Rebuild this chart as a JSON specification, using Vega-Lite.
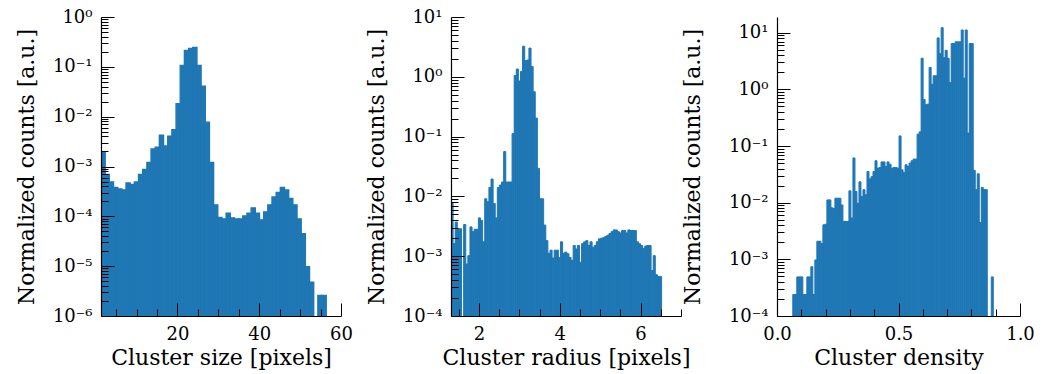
{
  "$schema": "https://vega.github.io/schema/vega-lite/v6.json",
  "background": "white",
  "padding": {"left": 15, "top": 8, "right": 5, "bottom": 2},
  "spacing": 96,
  "bounds": "flush",
  "config": {
    "view": {"stroke": null},
    "font": "DejaVu Serif",
    "axis": {
      "labelFont": "DejaVu Serif", "titleFont": "DejaVu Serif",
      "labelFontSize": 18, "titleFontSize": 22, "titleFontWeight": "normal",
      "labelColor": "black", "titleColor": "black", "domainColor": "black", "tickColor": "black",
      "domain": true, "ticks": true,
      "tickWidth": 1, "domainWidth": 1.2, "grid": false,
      "labelFlush": false, "labelOverlap": false
    }
  },
  "datasets": {
    "size": [
      {"x0":1.30,"x1":2.32,"y":0.00195},{"x0":2.32,"x1":3.34,"y":0.000692},{"x0":3.34,"x1":4.36,"y":0.000490},
      {"x0":4.36,"x1":5.38,"y":0.000380},{"x0":5.38,"x1":6.40,"y":0.000355},{"x0":6.40,"x1":7.42,"y":0.000339},
      {"x0":7.42,"x1":8.44,"y":0.000468},{"x0":8.44,"x1":9.46,"y":0.000437},{"x0":9.46,"x1":10.48,"y":0.000490},
      {"x0":10.48,"x1":11.50,"y":0.000692},{"x0":11.50,"x1":12.52,"y":0.000871},{"x0":12.52,"x1":13.54,"y":0.00120},
      {"x0":13.54,"x1":14.56,"y":0.00224},{"x0":14.56,"x1":15.58,"y":0.00245},{"x0":15.58,"x1":16.60,"y":0.00427},
      {"x0":16.60,"x1":17.62,"y":0.00257},{"x0":17.62,"x1":18.64,"y":0.00407},{"x0":18.64,"x1":19.66,"y":0.00550},
      {"x0":19.66,"x1":20.68,"y":0.0182},{"x0":20.68,"x1":21.70,"y":0.107},{"x0":21.70,"x1":22.72,"y":0.214},
      {"x0":22.72,"x1":23.74,"y":0.234},{"x0":23.74,"x1":24.76,"y":0.245},{"x0":24.76,"x1":25.78,"y":0.107},
      {"x0":25.78,"x1":26.80,"y":0.0407},{"x0":26.80,"x1":27.82,"y":0.00776},{"x0":27.82,"x1":28.84,"y":0.00120},
      {"x0":28.84,"x1":29.86,"y":0.000170},{"x0":29.86,"x1":30.88,"y":0.0000955},{"x0":30.88,"x1":31.90,"y":0.0000891},
      {"x0":31.90,"x1":32.92,"y":0.000115},{"x0":32.92,"x1":33.94,"y":0.0000933},{"x0":33.94,"x1":34.96,"y":0.0000891},
      {"x0":34.96,"x1":35.98,"y":0.0000891},{"x0":35.98,"x1":37.00,"y":0.000102},{"x0":37.00,"x1":38.02,"y":0.000115},
      {"x0":38.02,"x1":39.04,"y":0.000148},{"x0":39.04,"x1":40.06,"y":0.000115},{"x0":40.06,"x1":41.08,"y":0.0000851},
      {"x0":41.08,"x1":42.10,"y":0.000123},{"x0":42.10,"x1":43.12,"y":0.000170},{"x0":43.12,"x1":44.14,"y":0.000245},
      {"x0":44.14,"x1":45.16,"y":0.000302},{"x0":45.16,"x1":46.18,"y":0.000380},{"x0":46.18,"x1":47.20,"y":0.000339},
      {"x0":47.20,"x1":48.22,"y":0.000229},{"x0":48.22,"x1":49.24,"y":0.000170},{"x0":49.24,"x1":50.26,"y":0.0000891},
      {"x0":50.26,"x1":51.28,"y":0.0000447},{"x0":51.28,"x1":52.30,"y":0.00000977},{"x0":52.30,"x1":53.32,"y":0.00000479},
      {"x0":54.34,"x1":55.36,"y":0.00000257},{"x0":55.36,"x1":56.38,"y":0.00000257}
    ],
    "radius": [
      {"x0":1.310,"x1":1.362,"y":0.00794},{"x0":1.362,"x1":1.414,"y":0.00162},{"x0":1.414,"x1":1.466,"y":0.00372},
      {"x0":1.466,"x1":1.518,"y":0.00288},{"x0":1.518,"x1":1.571,"y":0.00288},
      {"x0":1.623,"x1":1.675,"y":0.00339},{"x0":1.675,"x1":1.727,"y":0.000741},{"x0":1.727,"x1":1.779,"y":0.00102},
      {"x0":1.779,"x1":1.831,"y":0.00309},{"x0":1.831,"x1":1.883,"y":0.00257},{"x0":1.883,"x1":1.935,"y":0.00282},
      {"x0":1.935,"x1":1.987,"y":0.00282},{"x0":1.987,"x1":2.039,"y":0.00437},{"x0":2.039,"x1":2.092,"y":0.00398},
      {"x0":2.092,"x1":2.144,"y":0.00174},{"x0":2.144,"x1":2.196,"y":0.00912},{"x0":2.196,"x1":2.248,"y":0.00813},
      {"x0":2.248,"x1":2.300,"y":0.0141},{"x0":2.300,"x1":2.352,"y":0.0195},{"x0":2.352,"x1":2.404,"y":0.00759},
      {"x0":2.404,"x1":2.456,"y":0.00437},{"x0":2.456,"x1":2.508,"y":0.0141},{"x0":2.508,"x1":2.560,"y":0.0155},
      {"x0":2.560,"x1":2.613,"y":0.0174},{"x0":2.613,"x1":2.665,"y":0.0562},{"x0":2.665,"x1":2.717,"y":0.0174},
      {"x0":2.717,"x1":2.769,"y":0.0174},{"x0":2.769,"x1":2.821,"y":0.0174},{"x0":2.821,"x1":2.873,"y":0.112},
      {"x0":2.873,"x1":2.925,"y":1.05},{"x0":2.925,"x1":2.977,"y":1.35},{"x0":2.977,"x1":3.029,"y":0.851},
      {"x0":3.029,"x1":3.081,"y":1.23},{"x0":3.081,"x1":3.134,"y":3.24},{"x0":3.134,"x1":3.186,"y":1.86},
      {"x0":3.186,"x1":3.238,"y":1.91},{"x0":3.238,"x1":3.290,"y":3.02},{"x0":3.290,"x1":3.342,"y":1.48},
      {"x0":3.342,"x1":3.394,"y":0.562},{"x0":3.394,"x1":3.446,"y":0.204},{"x0":3.446,"x1":3.498,"y":0.0295},
      {"x0":3.498,"x1":3.550,"y":0.00912},{"x0":3.550,"x1":3.602,"y":0.00912},{"x0":3.602,"x1":3.655,"y":0.00331},
      {"x0":3.655,"x1":3.707,"y":0.00182},{"x0":3.707,"x1":3.759,"y":0.00112},{"x0":3.759,"x1":3.811,"y":0.00126},
      {"x0":3.811,"x1":3.863,"y":0.000933},{"x0":3.863,"x1":3.915,"y":0.00126},{"x0":3.915,"x1":3.967,"y":0.00126},
      {"x0":3.967,"x1":4.019,"y":0.000955},{"x0":4.019,"x1":4.071,"y":0.00174},{"x0":4.071,"x1":4.123,"y":0.00112},
      {"x0":4.123,"x1":4.176,"y":0.00117},{"x0":4.176,"x1":4.228,"y":0.00110},{"x0":4.228,"x1":4.280,"y":0.000955},
      {"x0":4.280,"x1":4.332,"y":0.000851},{"x0":4.332,"x1":4.384,"y":0.00151},{"x0":4.384,"x1":4.436,"y":0.00132},
      {"x0":4.436,"x1":4.488,"y":0.00151},{"x0":4.488,"x1":4.540,"y":0.000794},{"x0":4.540,"x1":4.592,"y":0.00162},
      {"x0":4.592,"x1":4.644,"y":0.00174},{"x0":4.644,"x1":4.697,"y":0.00182},{"x0":4.697,"x1":4.749,"y":0.00151},
      {"x0":4.749,"x1":4.801,"y":0.00174},{"x0":4.801,"x1":4.853,"y":0.00141},{"x0":4.853,"x1":4.905,"y":0.00151},
      {"x0":4.905,"x1":4.957,"y":0.00174},{"x0":4.957,"x1":5.009,"y":0.00195},{"x0":5.009,"x1":5.061,"y":0.00200},
      {"x0":5.061,"x1":5.113,"y":0.00204},{"x0":5.113,"x1":5.165,"y":0.00214},{"x0":5.165,"x1":5.218,"y":0.00224},
      {"x0":5.218,"x1":5.270,"y":0.00240},{"x0":5.270,"x1":5.322,"y":0.00257},{"x0":5.322,"x1":5.374,"y":0.00275},
      {"x0":5.374,"x1":5.426,"y":0.00275},{"x0":5.426,"x1":5.478,"y":0.00257},{"x0":5.478,"x1":5.530,"y":0.00245},
      {"x0":5.530,"x1":5.582,"y":0.00269},{"x0":5.582,"x1":5.634,"y":0.00269},{"x0":5.634,"x1":5.686,"y":0.00245},
      {"x0":5.686,"x1":5.739,"y":0.00275},{"x0":5.739,"x1":5.791,"y":0.00269},{"x0":5.791,"x1":5.843,"y":0.00269},
      {"x0":5.843,"x1":5.895,"y":0.00269},{"x0":5.895,"x1":5.947,"y":0.00174},{"x0":5.947,"x1":5.999,"y":0.00162},
      {"x0":5.999,"x1":6.051,"y":0.00151},{"x0":6.051,"x1":6.103,"y":0.00135},{"x0":6.103,"x1":6.155,"y":0.00148},
      {"x0":6.155,"x1":6.207,"y":0.00151},{"x0":6.207,"x1":6.260,"y":0.00151},{"x0":6.260,"x1":6.312,"y":0.000575},
      {"x0":6.312,"x1":6.364,"y":0.00102},{"x0":6.364,"x1":6.416,"y":0.000490},{"x0":6.416,"x1":6.468,"y":0.000457},
      {"x0":6.468,"x1":6.520,"y":0.000457}
    ],
    "density": [
      {"x0":0.0650,"x1":0.0733,"y":0.000240},{"x0":0.0733,"x1":0.0815,"y":0.000240},{"x0":0.0815,"x1":0.0898,"y":0.000490},
      {"x0":0.0898,"x1":0.0980,"y":0.000490},{"x0":0.0980,"x1":0.1063,"y":0.000490},{"x0":0.1063,"x1":0.1145,"y":0.000240},
      {"x0":0.1145,"x1":0.1228,"y":0.000240},{"x0":0.1228,"x1":0.1310,"y":0.000490},{"x0":0.1310,"x1":0.1393,"y":0.000490},
      {"x0":0.1393,"x1":0.1475,"y":0.000741},{"x0":0.1475,"x1":0.1558,"y":0.000240},{"x0":0.1558,"x1":0.1640,"y":0.000977},
      {"x0":0.1640,"x1":0.1723,"y":0.00209},{"x0":0.1723,"x1":0.1805,"y":0.00209},{"x0":0.1805,"x1":0.1888,"y":0.00191},
      {"x0":0.1888,"x1":0.1970,"y":0.00407},{"x0":0.1970,"x1":0.2053,"y":0.00417},{"x0":0.2053,"x1":0.2135,"y":0.0112},
      {"x0":0.2135,"x1":0.2218,"y":0.0112},{"x0":0.2218,"x1":0.2300,"y":0.00813},{"x0":0.2300,"x1":0.2383,"y":0.00794},
      {"x0":0.2383,"x1":0.2465,"y":0.0120},{"x0":0.2465,"x1":0.2548,"y":0.0120},{"x0":0.2548,"x1":0.2630,"y":0.0120},
      {"x0":0.2630,"x1":0.2713,"y":0.00912},{"x0":0.2713,"x1":0.2795,"y":0.00468},{"x0":0.2795,"x1":0.2878,"y":0.00468},
      {"x0":0.2878,"x1":0.2960,"y":0.00468},{"x0":0.2960,"x1":0.3043,"y":0.0162},{"x0":0.3043,"x1":0.3125,"y":0.00537},
      {"x0":0.3125,"x1":0.3208,"y":0.0617},{"x0":0.3208,"x1":0.3290,"y":0.0158},{"x0":0.3290,"x1":0.3373,"y":0.00977},
      {"x0":0.3373,"x1":0.3455,"y":0.0234},{"x0":0.3455,"x1":0.3538,"y":0.0129},{"x0":0.3538,"x1":0.3620,"y":0.0170},
      {"x0":0.3620,"x1":0.3703,"y":0.0138},{"x0":0.3703,"x1":0.3785,"y":0.0355},{"x0":0.3785,"x1":0.3868,"y":0.0263},
      {"x0":0.3868,"x1":0.3950,"y":0.0288},{"x0":0.3950,"x1":0.4033,"y":0.0355},{"x0":0.4033,"x1":0.4115,"y":0.0550},
      {"x0":0.4115,"x1":0.4198,"y":0.0407},{"x0":0.4198,"x1":0.4280,"y":0.0417},{"x0":0.4280,"x1":0.4363,"y":0.0525},
      {"x0":0.4363,"x1":0.4445,"y":0.0525},{"x0":0.4445,"x1":0.4528,"y":0.0437},{"x0":0.4528,"x1":0.4610,"y":0.0525},
      {"x0":0.4610,"x1":0.4693,"y":0.0479},{"x0":0.4693,"x1":0.4775,"y":0.0407},{"x0":0.4775,"x1":0.4858,"y":0.0417},
      {"x0":0.4858,"x1":0.4940,"y":0.0417},{"x0":0.4940,"x1":0.5023,"y":0.0407},{"x0":0.5023,"x1":0.5105,"y":0.151},
      {"x0":0.5105,"x1":0.5188,"y":0.0380},{"x0":0.5188,"x1":0.5270,"y":0.0339},{"x0":0.5270,"x1":0.5353,"y":0.0468},
      {"x0":0.5353,"x1":0.5435,"y":0.0437},{"x0":0.5435,"x1":0.5518,"y":0.0501},{"x0":0.5518,"x1":0.5600,"y":0.0550},
      {"x0":0.5600,"x1":0.5683,"y":0.0589},{"x0":0.5683,"x1":0.5765,"y":0.0589},{"x0":0.5765,"x1":0.5848,"y":0.162},
      {"x0":0.5848,"x1":0.5930,"y":0.178},{"x0":0.5930,"x1":0.6013,"y":3.55},{"x0":0.6013,"x1":0.6095,"y":0.661},
      {"x0":0.6095,"x1":0.6178,"y":0.537},{"x0":0.6178,"x1":0.6260,"y":0.550},{"x0":0.6260,"x1":0.6343,"y":2.45},
      {"x0":0.6343,"x1":0.6425,"y":1.23},{"x0":0.6425,"x1":0.6508,"y":1.74},{"x0":0.6508,"x1":0.6590,"y":1.74},
      {"x0":0.6590,"x1":0.6673,"y":8.13},{"x0":0.6673,"x1":0.6755,"y":4.27},{"x0":0.6755,"x1":0.6838,"y":12.3},
      {"x0":0.6838,"x1":0.6920,"y":3.63},{"x0":0.6920,"x1":0.7003,"y":4.90},{"x0":0.7003,"x1":0.7085,"y":3.55},
      {"x0":0.7085,"x1":0.7168,"y":1.32},{"x0":0.7168,"x1":0.7250,"y":6.46},{"x0":0.7250,"x1":0.7333,"y":6.46},
      {"x0":0.7333,"x1":0.7415,"y":6.92},{"x0":0.7415,"x1":0.7498,"y":6.92},{"x0":0.7498,"x1":0.7580,"y":6.92},
      {"x0":0.7580,"x1":0.7663,"y":11.2},{"x0":0.7663,"x1":0.7745,"y":1.58},{"x0":0.7745,"x1":0.7828,"y":11.2},
      {"x0":0.7828,"x1":0.7910,"y":0.170},{"x0":0.7910,"x1":0.7993,"y":6.46},{"x0":0.7993,"x1":0.8075,"y":6.46},
      {"x0":0.8075,"x1":0.8158,"y":0.0372},{"x0":0.8158,"x1":0.8240,"y":0.0170},{"x0":0.8240,"x1":0.8323,"y":0.0324},
      {"x0":0.8323,"x1":0.8405,"y":0.00447},{"x0":0.8405,"x1":0.8488,"y":0.0186},{"x0":0.8488,"x1":0.8570,"y":0.0170},
      {"x0":0.8570,"x1":0.8653,"y":0.0170},
      {"x0":0.8818,"x1":0.8900,"y":0.000490}
    ]
  },
  "hconcat": [
    {
      "width": 254, "height": 299,
      "data": {"name": "size"},
      "layer": [
        {
          "mark": {"type": "rect", "color": "#1f77b4", "stroke": "#1f77b4", "strokeWidth": 1.4, "clip": true},
          "encoding": {
            "x": {"field": "x0", "type": "quantitative", "title": "Cluster size [pixels]",
                  "scale": {"domain": [1.3, 63.42], "nice": false, "zero": false},
                  "axis": {"orient": "bottom", "values": [20, 40, 60], "tickSize": -13, "labelPadding": 22, "titlePadding": 4, "titleX": 120, "domainDash": [240, 40], "zindex": 2}},
            "x2": {"field": "x1"},
            "y": {"field": "y", "type": "quantitative", "title": "Normalized counts [a.u.]",
                  "scale": {"type": "log", "domain": [0.000001, 1], "nice": false},
                  "axis": {"orient": "left", "values": [0.000001, 0.00001, 0.0001, 0.001, 0.01, 0.1, 1], "tickSize": -13, "labelPadding": 22, "titlePadding": 14, "zindex": 2,
                           "labelExpr": "'10' + (datum.value < 0.99 ? '⁻' : '') + ['⁰','¹','²','³','⁴','⁵','⁶','⁷','⁸','⁹'][abs(round(log(datum.value)/LN10))]"}},
            "y2": {"datum": 0.000001}
          }
        },
        {
          "mark": {"type": "rect", "opacity": 0, "clip": true},
          "encoding": {
            "x": {"field": "x0", "type": "quantitative",
                  "axis": {"orient": "bottom", "values": [5, 10, 15, 25, 30, 35, 45, 50, 55], "tickSize": -7, "labels": false, "domain": false, "title": null, "zindex": 2}},
            "x2": {"field": "x1"},
            "y": {"field": "y", "type": "quantitative",
                  "axis": {"orient": "left", "tickSize": -7, "labels": false, "domain": false, "title": null, "zindex": 2,
                           "values": [2e-6,3e-6,4e-6,5e-6,6e-6,7e-6,8e-6,9e-6,2e-5,3e-5,4e-5,5e-5,6e-5,7e-5,8e-5,9e-5,2e-4,3e-4,4e-4,5e-4,6e-4,7e-4,8e-4,9e-4,2e-3,3e-3,4e-3,5e-3,6e-3,7e-3,8e-3,9e-3,0.02,0.03,0.04,0.05,0.06,0.07,0.08,0.09,0.2,0.3,0.4,0.5,0.6,0.7,0.8,0.9]}},
            "y2": {"datum": 0.000001}
          }
        }
      ],
      "resolve": {"axis": {"x": "independent", "y": "independent"}}
    },
    {
      "width": 230, "height": 299,
      "data": {"name": "radius"},
      "layer": [
        {
          "mark": {"type": "rect", "color": "#1f77b4", "stroke": "#1f77b4", "strokeWidth": 1.0, "clip": true},
          "encoding": {
            "x": {"field": "x0", "type": "quantitative", "title": "Cluster radius [pixels]",
                  "scale": {"domain": [1.31, 7], "nice": false, "zero": false},
                  "axis": {"orient": "bottom", "values": [2, 4, 6], "tickSize": -13, "labelPadding": 22, "titlePadding": 4, "zindex": 2}},
            "x2": {"field": "x1"},
            "y": {"field": "y", "type": "quantitative", "title": "Normalized counts [a.u.]",
                  "scale": {"type": "log", "domain": [0.0001, 10], "nice": false},
                  "axis": {"orient": "left", "values": [0.0001, 0.001, 0.01, 0.1, 1, 10], "tickSize": -13, "labelPadding": 22, "titlePadding": 14, "zindex": 2,
                           "labelExpr": "'10' + (datum.value < 0.99 ? '⁻' : '') + ['⁰','¹','²','³','⁴','⁵','⁶','⁷','⁸','⁹'][abs(round(log(datum.value)/LN10))]"}},
            "y2": {"datum": 0.0001}
          }
        },
        {
          "mark": {"type": "rect", "opacity": 0, "clip": true},
          "encoding": {
            "x": {"field": "x0", "type": "quantitative",
                  "axis": {"orient": "bottom", "values": [1.5, 2.5, 3, 3.5, 4.5, 5, 5.5, 6.5, 7], "tickSize": -7, "labels": false, "domain": false, "title": null, "zindex": 2}},
            "x2": {"field": "x1"},
            "y": {"field": "y", "type": "quantitative",
                  "axis": {"orient": "left", "tickSize": -7, "labels": false, "domain": false, "title": null, "zindex": 2,
                           "values": [2e-4,3e-4,4e-4,5e-4,6e-4,7e-4,8e-4,9e-4,2e-3,3e-3,4e-3,5e-3,6e-3,7e-3,8e-3,9e-3,0.02,0.03,0.04,0.05,0.06,0.07,0.08,0.09,0.2,0.3,0.4,0.5,0.6,0.7,0.8,0.9,2,3,4,5,6,7,8,9]}},
            "y2": {"datum": 0.0001}
          }
        }
      ],
      "resolve": {"axis": {"x": "independent", "y": "independent"}}
    },
    {
      "width": 243, "height": 299,
      "data": {"name": "density"},
      "layer": [
        {
          "mark": {"type": "rect", "color": "#1f77b4", "stroke": "#1f77b4", "strokeWidth": 1.0, "clip": true},
          "encoding": {
            "x": {"field": "x0", "type": "quantitative", "title": "Cluster density",
                  "scale": {"domain": [0, 1], "nice": false, "zero": false},
                  "axis": {"orient": "bottom", "values": [0, 0.5, 1], "format": ".1f", "tickSize": -13, "labelPadding": 22, "titlePadding": 4, "zindex": 2}},
            "x2": {"field": "x1"},
            "y": {"field": "y", "type": "quantitative", "title": "Normalized counts [a.u.]",
                  "scale": {"type": "log", "domain": [0.0001, 19], "nice": false},
                  "axis": {"orient": "left", "values": [0.0001, 0.001, 0.01, 0.1, 1, 10], "tickSize": -13, "labelPadding": 22, "titlePadding": 24, "zindex": 2,
                           "labelExpr": "'10' + (datum.value < 0.99 ? '⁻' : '') + ['⁰','¹','²','³','⁴','⁵','⁶','⁷','⁸','⁹'][abs(round(log(datum.value)/LN10))]"}},
            "y2": {"datum": 0.0001}
          }
        },
        {
          "mark": {"type": "rect", "opacity": 0, "clip": true},
          "encoding": {
            "x": {"field": "x0", "type": "quantitative",
                  "axis": {"orient": "bottom", "values": [0.1, 0.2, 0.3, 0.4, 0.6, 0.7, 0.8, 0.9], "tickSize": -7, "labels": false, "domain": false, "title": null, "zindex": 2}},
            "x2": {"field": "x1"},
            "y": {"field": "y", "type": "quantitative",
                  "axis": {"orient": "left", "tickSize": -7, "labels": false, "domain": false, "title": null, "zindex": 2,
                           "values": [2e-4,3e-4,4e-4,5e-4,6e-4,7e-4,8e-4,9e-4,2e-3,3e-3,4e-3,5e-3,6e-3,7e-3,8e-3,9e-3,0.02,0.03,0.04,0.05,0.06,0.07,0.08,0.09,0.2,0.3,0.4,0.5,0.6,0.7,0.8,0.9,2,3,4,5,6,7,8,9]}},
            "y2": {"datum": 0.0001}
          }
        }
      ],
      "resolve": {"axis": {"x": "independent", "y": "independent"}}
    }
  ]
}
